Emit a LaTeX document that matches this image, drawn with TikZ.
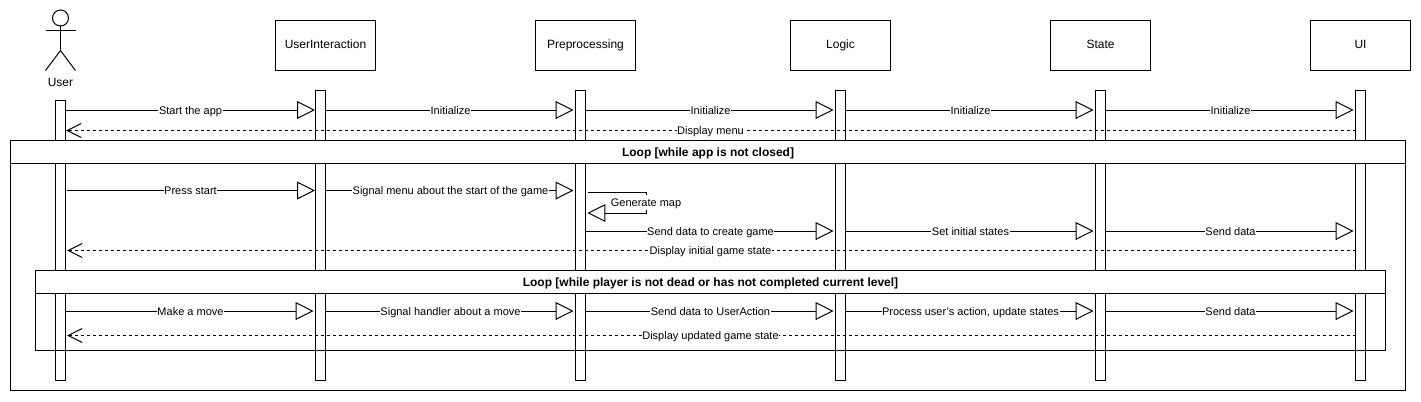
\documentclass[tikz,border=0pt]{standalone}
\usepackage{fontspec}
\setmainfont{Liberation Sans}
\usetikzlibrary{arrows.meta,positioning}
\tikzset{
  part/.style={draw, fill=white, minimum width=75pt, minimum height=37.5pt, inner sep=0pt, text height=7.2pt, text depth=2pt, font=\fontsize{9pt}{11pt}\selectfont},
  lifebar/.style={draw, fill=white, minimum width=7.5pt, inner sep=0pt},
  frame/.style={draw, inner sep=0pt},
  framehead/.style={frame, fill=white, minimum height=17.25pt, text height=8.3pt, text depth=2pt, font=\fontsize{9pt}{11pt}\selectfont\bfseries},
  msg/.style={-{Triangle[open, length=13.4pt, width=13.4pt, fill=white]}, shorten >=1.5pt},
  reply/.style={dash pattern=on 2.25pt off 2.25pt, -{Straight Barb[length=10.5pt, width=10.5pt]}, shorten >=1.2pt},
  msglabel/.style={fill=white, inner sep=0.4pt, text height=8.2pt, text depth=1.8pt, font=\fontsize{8.25pt}{10pt}\selectfont}
}
\begin{document}
\begin{tikzpicture}[x=0.75pt, y=-0.75pt, line width=0.75pt, outer sep=0pt, node distance=195pt]
\useasboundingbox (0,0) rectangle (1421,401);
% lifelines
\node (userbar) [lifebar, minimum height=210pt] at (60.5,240.5) {};
\node (inputbar) [lifebar, minimum height=217.5pt] at (320.5,235.5) {};
\node (prepbar) [lifebar, minimum height=217.5pt, right of=inputbar] {};
\node (logicbar) [lifebar, minimum height=217.5pt, right of=prepbar] {};
\node (statebar) [lifebar, minimum height=217.5pt, right of=logicbar] {};
\node (uibar) [lifebar, minimum height=217.5pt, right of=statebar] {};
% participants
\node (input) [part, above of=inputbar, node distance=142.5pt, xshift=3.75pt] {UserInteraction};
\node (prep) [part, above of=prepbar, node distance=142.5pt, xshift=3.75pt] {Preprocessing};
\node (logic) [part, above of=logicbar, node distance=142.5pt] {Logic};
\node (state) [part, above of=statebar, node distance=142.5pt] {State};
\node (ui) [part, above of=uibar, node distance=142.5pt] {UI};
% actor
\node (head) [draw, circle, minimum size=12pt, inner sep=0pt] at (60.5,18) {};
\coordinate (hip) at (60.5,50.5);
\coordinate (handl) at (45.5,30.5);
\coordinate (handr) at (75.5,30.5);
\coordinate (footl) at (45.5,70.5);
\coordinate (footr) at (75.5,70.5);
\draw (head) -- (hip);
\draw (handl) -- (handr);
\draw (footl) -- (hip) -- (footr);
\node (userlabel) [font=\fontsize{9pt}{11pt}\selectfont, inner sep=0pt] at (60.5,82.5) {User};
% loops
\node (outer) [frame, minimum width=1046.25pt, minimum height=187.5pt] at (708,265.5) {};
\node (outerhead) [framehead, minimum width=1046.25pt] at (708,152) {Loop [while app is not closed]};
\node (inner) [frame, minimum width=1012.5pt, minimum height=60pt] at (710.5,310.5) {};
\node (innerhead) [framehead, minimum width=1012.5pt] at (710.5,282) {Loop [while player is not dead or has not completed current level]};
% rows of messages
\coordinate (rowa) at (0,110);
\coordinate (rowb) at (0,130.5);
\coordinate (rowc) at (0,190.5);
\coordinate (rowd) at (0,231);
\coordinate (rowe) at (0,250.5);
\coordinate (rowf) at (0,311);
\coordinate (rowg) at (0,335.5);
\coordinate (genturn) at (646,192);
\coordinate (genback) at (646,213);
\draw[msg, shorten >=0.4pt] (userbar.east |- rowa) -- node[msglabel] (la) {Start the app} (inputbar.west |- rowa);
\draw[msg] (inputbar.east |- rowa) -- node[msglabel] (lb) {Initialize} (prepbar.west |- rowa);
\draw[msg] (prepbar.east |- rowa) -- node[msglabel] (lc) {Initialize} (logicbar.west |- rowa);
\draw[msg] (logicbar.east |- rowa) -- node[msglabel] (ld) {Initialize} (statebar.west |- rowa);
\draw[msg] (statebar.east |- rowa) -- node[msglabel] (le) {Initialize} (uibar.west |- rowa);
\draw[reply, shorten >=0.4pt] (uibar.west |- rowb) -- node[msglabel] (lf) {Display menu} (userbar.east |- rowb);
\draw[msg, shorten >=0.4pt, shorten <=0.8pt] (userbar.east |- rowc) -- node[msglabel] (lg) {Press start} (inputbar.west |- rowc);
\draw[msg] (inputbar.east |- rowc) -- node[msglabel] (lh) {Signal menu about the start of the game} (prepbar.west |- rowc);
\draw[msg, shorten <=1.5pt] (prepbar.east |- genturn) -- (genturn) -- node[msglabel] (li) {Generate map} (genback) -- (prepbar.east |- genback);
\draw[msg] (prepbar.east |- rowd) -- node[msglabel] (lj) {Send data to create game} (logicbar.west |- rowd);
\draw[msg] (logicbar.east |- rowd) -- node[msglabel] (lk) {Set initial states} (statebar.west |- rowd);
\draw[msg] (statebar.east |- rowd) -- node[msglabel] (ll) {Send data} (uibar.west |- rowd);
\draw[reply] (uibar.west |- rowe) -- node[msglabel] (lm) {Display initial game state} (userbar.east |- rowe);
\draw[msg] (userbar.east |- rowf) -- node[msglabel] (ln) {Make a move} (inputbar.west |- rowf);
\draw[msg] (inputbar.east |- rowf) -- node[msglabel] (lo) {Signal handler about a move} (prepbar.west |- rowf);
\draw[msg] (prepbar.east |- rowf) -- node[msglabel] (lp) {Send data to UserAction} (logicbar.west |- rowf);
\draw[msg] (logicbar.east |- rowf) -- node[msglabel] (lq) {Process user's action, update states} (statebar.west |- rowf);
\draw[msg] (statebar.east |- rowf) -- node[msglabel] (lr) {Send data} (uibar.west |- rowf);
\draw[reply] (uibar.west |- rowg) -- node[msglabel] (ls) {Display updated game state} (userbar.east |- rowg);
\end{tikzpicture}
\end{document}
